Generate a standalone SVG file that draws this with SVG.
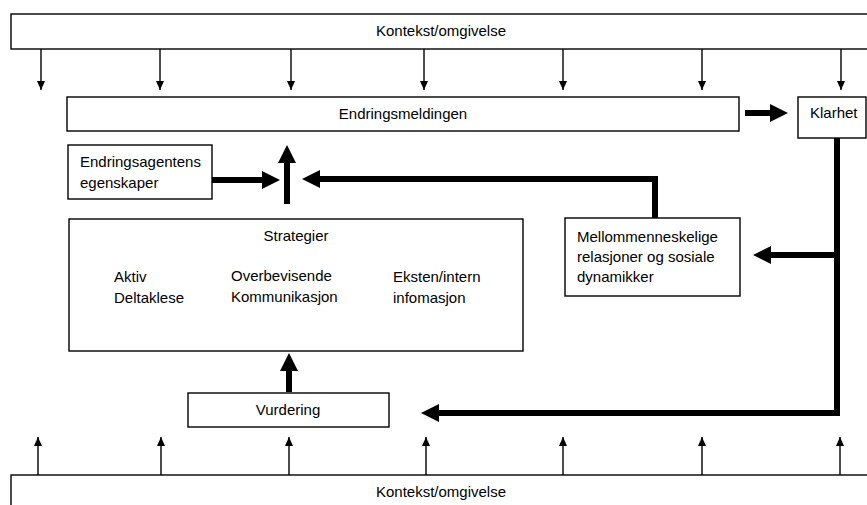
<svg xmlns="http://www.w3.org/2000/svg" width="867" height="505" viewBox="0 0 867 505">
<style>
.box{fill:#fff;stroke:#000;stroke-width:1.4}
.t{font-family:"Liberation Sans",Arial,sans-serif;font-size:15px;fill:#000}
.c{text-anchor:middle}
.thin{fill:none;stroke:#000;stroke-width:1.4}
.thick{fill:none;stroke:#000;stroke-width:6;stroke-linejoin:miter}
</style>
<defs>
<marker id="ah" markerUnits="userSpaceOnUse" markerWidth="9" markerHeight="8" refX="9" refY="4" orient="auto"><path d="M0,0 L9,4 L0,8 z" fill="#000"/></marker>
<marker id="AH" markerUnits="userSpaceOnUse" markerWidth="18" markerHeight="18" refX="6" refY="9" orient="auto"><path d="M0,0 L18,9 L0,18 z" fill="#000"/></marker>
</defs>
<rect width="867" height="505" fill="#fff"/>
<g id="kontekst-top"><rect class="box" x="11" y="14" width="870" height="35"/><text class="t c" x="441" y="36">Kontekst/omgivelse</text></g>
<g id="kontekst-bottom"><rect class="box" x="11" y="475" width="870" height="40"/><text class="t c" x="441" y="497">Kontekst/omgivelse</text></g>
<g id="endringsmeldingen"><rect class="box" x="67" y="97" width="672" height="34"/><text class="t c" x="403" y="119">Endringsmeldingen</text></g>
<g id="klarhet"><rect class="box" x="798" y="97" width="68" height="41"/><text class="t" x="810" y="118">Klarhet</text></g>
<g id="endringsagentens"><rect class="box" x="68" y="145" width="144" height="54"/><text class="t" x="80" y="167">Endringsagentens</text><text class="t" x="80" y="188">egenskaper</text></g>
<g id="mellommenneskelige"><rect class="box" x="565" y="218" width="175" height="78"/><text class="t" x="577" y="242">Mellommenneskelige</text><text class="t" x="577" y="262">relasjoner og sosiale</text><text class="t" x="577" y="282">dynamikker</text></g>
<g id="strategier"><rect class="box" x="69" y="219" width="454" height="132"/><text class="t c" x="296" y="241">Strategier</text><text class="t" x="114" y="282">Aktiv</text><text class="t" x="114" y="303">Deltaklese</text><text class="t" x="231" y="281">Overbevisende</text><text class="t" x="231" y="302">Kommunikasjon</text><text class="t" x="393" y="282">Eksten/intern</text><text class="t" x="393" y="303">infomasjon</text></g>
<g id="vurdering"><rect class="box" x="188" y="393" width="201" height="34"/><text class="t c" x="288" y="415">Vurdering</text></g>
<g id="connectors">
<path class="thin" d="M41,49 V90" marker-end="url(#ah)"/>
<path class="thin" d="M160,49 V90" marker-end="url(#ah)"/>
<path class="thin" d="M291,49 V90" marker-end="url(#ah)"/>
<path class="thin" d="M424,49 V90" marker-end="url(#ah)"/>
<path class="thin" d="M563,49 V90" marker-end="url(#ah)"/>
<path class="thin" d="M702,49 V90" marker-end="url(#ah)"/>
<path class="thin" d="M841,49 V90" marker-end="url(#ah)"/>
<path class="thin" d="M38,475 V437" marker-end="url(#ah)"/>
<path class="thin" d="M161,475 V437" marker-end="url(#ah)"/>
<path class="thin" d="M289,475 V437" marker-end="url(#ah)"/>
<path class="thin" d="M426,475 V437" marker-end="url(#ah)"/>
<path class="thin" d="M563,475 V437" marker-end="url(#ah)"/>
<path class="thin" d="M702,475 V437" marker-end="url(#ah)"/>
<path class="thin" d="M840,475 V437" marker-end="url(#ah)"/>
<path class="thick" d="M745,113 H776" marker-end="url(#AH)"/>
<path class="thick" d="M212,180 H268" marker-end="url(#AH)"/>
<path class="thick" d="M287,204 V157" marker-end="url(#AH)"/>
<path class="thick" d="M655,218 V179 H314" marker-end="url(#AH)"/>
<path class="thick" d="M837,138 V413 H433" marker-end="url(#AH)"/>
<path class="thick" d="M837,255 H765" marker-end="url(#AH)"/>
<path class="thick" d="M289,392 V365" marker-end="url(#AH)"/>
</g>
</svg>
